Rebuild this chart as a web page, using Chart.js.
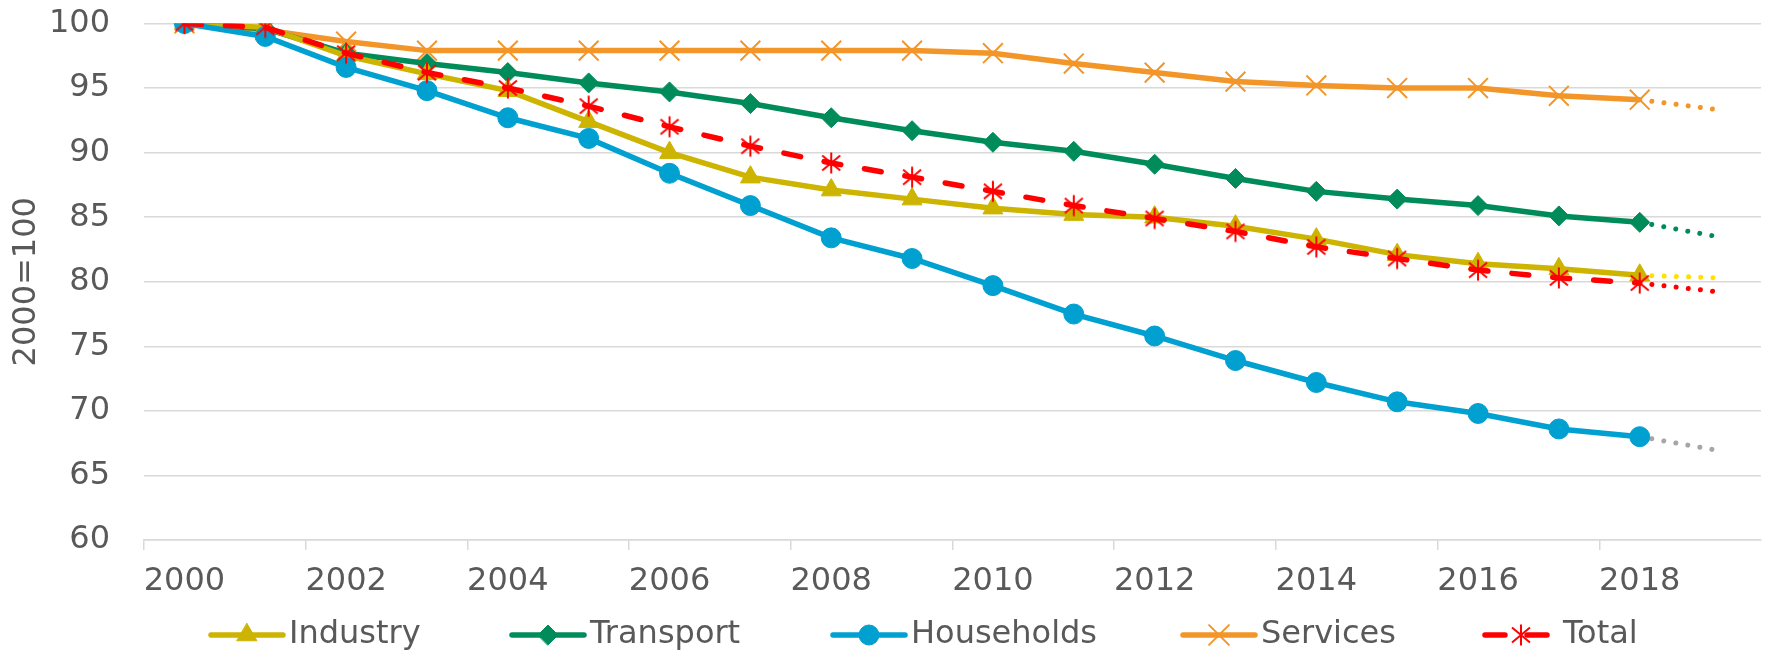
<!DOCTYPE html>
<html><head><meta charset="utf-8">
<script src="https://cdn.jsdelivr.net/npm/chart.js@4/dist/chart.umd.min.js"></script>
<style>html,body{margin:0;padding:0;background:#fff}#wrap{width:1777px;height:652px}canvas{display:block}</style>
</head><body><div id="wrap"><canvas id="c" width="1777" height="652" style="width:1777px;height:652px"></canvas></div>
<script>
const years = ['2000','2001','2002','2003','2004','2005','2006','2007','2008','2009','2010','2011','2012','2013','2014','2015','2016','2017','2018','2019'];
const industry   = [100, 99.7, 97.5, 96.1, 94.8, 92.4, 90.0, 88.1, 87.1, 86.4, 85.7, 85.2, 85.0, 84.3, 83.3, 82.1, 81.4, 81.0, 80.5, null];
const transport  = [100, 99.6, 97.7, 96.9, 96.2, 95.4, 94.7, 93.8, 92.7, 91.7, 90.8, 90.1, 89.1, 88.0, 87.0, 86.4, 85.9, 85.1, 84.6, null];
const households = [100, 99.0, 96.6, 94.8, 92.7, 91.1, 88.4, 85.9, 83.4, 81.8, 79.7, 77.5, 75.8, 73.9, 72.2, 70.7, 69.8, 68.6, 68.0, null];
const services   = [100, 99.5, 98.6, 97.9, 97.9, 97.9, 97.9, 97.9, 97.9, 97.9, 97.7, 96.9, 96.2, 95.5, 95.2, 95.0, 95.0, 94.4, 94.1, null];
const total      = [100, 99.7, 97.7, 96.2, 95.0, 93.6, 92.0, 90.5, 89.2, 88.1, 87.0, 85.9, 84.9, 83.9, 82.7, 81.8, 80.9, 80.3, 79.9, null];
// dotted projection from 2018 to 2019
const trendYears      = ['2018', '2019'];
const industryTrend   = [80.5, 80.3];
const transportTrend  = [84.6, 83.45];
const householdsTrend = [68.0, 66.9];
const servicesTrend   = [94.1, 93.3];
const totalTrend      = [79.9, 79.2];
const yTicks = [60, 65, 70, 75, 80, 85, 90, 95, 100];

const FONT = "'DejaVu Sans', Verdana, sans-serif";
const TXT = '#595959';
const GRID = '#d9d9d9';

function makeAsterisk(color) {
  const s = 26, c = document.createElement('canvas');
  c.width = s; c.height = s;
  const g = c.getContext('2d');
  g.strokeStyle = color; g.lineWidth = 2; g.lineCap = 'butt';
  const m = s / 2;
  g.beginPath();
  g.moveTo(m, m - 10.5); g.lineTo(m, m + 10.5);
  g.moveTo(m - 9, m - 7.5); g.lineTo(m + 9, m + 7.5);
  g.moveTo(m + 9, m - 7.5); g.lineTo(m - 9, m + 7.5);
  g.stroke();
  return c;
}
const asterisk = makeAsterisk('#ff0000');

const toPts = (xs, ys) => xs.map((x, i) => ({x: x, y: ys[i]}));

const main = [
  {label: 'Industry', data: industry, borderColor: '#ccb400', backgroundColor: '#ccb400', pointStyle: 'triangle', pointRadius: 11.5, pointBorderWidth: 1, order: 3},
  {label: 'Transport', data: transport, borderColor: '#008c5a', backgroundColor: '#008c5a', pointStyle: 'rectRot', pointRadius: 10, pointBorderWidth: 1, order: 4},
  {label: 'Households', data: households, borderColor: '#00a0d0', backgroundColor: '#00a0d0', pointStyle: 'circle', pointRadius: 10, pointBorderWidth: 1, order: 2},
  {label: 'Services', data: services, borderColor: '#f39629', backgroundColor: '#f39629', pointStyle: 'crossRot', pointRadius: 14, pointBorderWidth: 2, order: 5},
  {label: 'Total', data: total, borderColor: '#ff0000', backgroundColor: '#ff0000', pointStyle: asterisk, pointRadius: 12, pointBorderWidth: 2, order: 1, borderDash: [17, 24], borderCapStyle: 'round'}
];
main.forEach(d => { d.borderWidth = 5.5; d.tension = 0; d.fill = false; });

const trends = [
  {data: toPts(trendYears, industryTrend), borderColor: '#ffe000'},
  {data: toPts(trendYears, transportTrend), borderColor: '#008c5a'},
  {data: toPts(trendYears, householdsTrend), borderColor: '#a6a6a6'},
  {data: toPts(trendYears, servicesTrend), borderColor: '#f39629'},
  {data: toPts(trendYears, totalTrend), borderColor: '#ff0000'}
];
trends.forEach(d => { d.label = ''; d.borderWidth = 5; d.borderDash = [0.01, 12.2]; d.borderCapStyle = 'round'; d.pointRadius = 0; d.order = 10; d.fill = false; });

const legendPlugin = {
  id: 'customLegend',
  afterDraw(chart) {
    const ctx = chart.ctx;
    const starts = [211, 512, 833, 1183, 1485];
    const yc = 635;
    ctx.save();
    main.forEach((d, i) => {
      const x0 = starts[i], x1 = x0 + 72;
      ctx.strokeStyle = d.borderColor; ctx.lineWidth = 5.5; ctx.lineCap = 'round';
      if (d.borderDash) ctx.setLineDash([20, 22]); else ctx.setLineDash([]);
      ctx.beginPath(); ctx.moveTo(x0, yc); ctx.lineTo(x1, yc); ctx.stroke();
      ctx.setLineDash([]);
      ctx.fillStyle = d.backgroundColor; ctx.strokeStyle = d.borderColor; ctx.lineWidth = d.pointBorderWidth;
      Chart.helpers.drawPoint(ctx, {pointStyle: d.pointStyle, rotation: 0, radius: d.pointRadius, borderWidth: d.pointBorderWidth}, (x0 + x1) / 2, yc);
      ctx.fillStyle = TXT; ctx.font = '32px ' + FONT; ctx.textBaseline = 'middle'; ctx.textAlign = 'left';
      ctx.fillText(d.label, x1 + 6, yc);
    });
    ctx.restore();
  }
};

new Chart(document.getElementById('c'), {
  type: 'line',
  data: {labels: years, datasets: main.concat(trends)},
  options: {
    responsive: false, animation: false, devicePixelRatio: 1,
    layout: {padding: {left: 0, right: 5, top: 23.5, bottom: 52}},
    plugins: {legend: {display: false}, tooltip: {enabled: false}},
    scales: {
      x: {
        type: 'category', offset: true,
        grid: {offset: true, drawOnChartArea: false, drawTicks: true, tickLength: 10, lineWidth: 1.5,
               color: c => (c.index % 2 === 0 ? GRID : 'rgba(0,0,0,0)')},
        border: {color: GRID, width: 1.5},
        ticks: {autoSkip: false, maxRotation: 0, minRotation: 0, padding: 12, color: TXT, font: {family: FONT, size: 32},
                callback: function(v, i) { return i % 2 === 0 ? this.getLabelForValue(v) : ''; }},
        afterFit: s => { s.height = 60; s.paddingLeft = 0; s.paddingRight = 0; }
      },
      y: {
        min: 60, max: 100,
        afterBuildTicks: s => { s.ticks = yTicks.map(v => ({value: v})); },
        grid: {color: GRID, lineWidth: 1.5, drawTicks: false},
        border: {display: false},
        ticks: {padding: 34, color: TXT, font: {family: FONT, size: 32}},
        title: {display: true, text: '2000=100', color: TXT, font: {family: FONT, size: 32}, padding: {top: 7, bottom: 0}},
        afterFit: s => { s.width = 144; s.paddingTop = 0; s.paddingBottom = 0; }
      }
    }
  },
  plugins: [legendPlugin]
});
</script>
</body></html>
